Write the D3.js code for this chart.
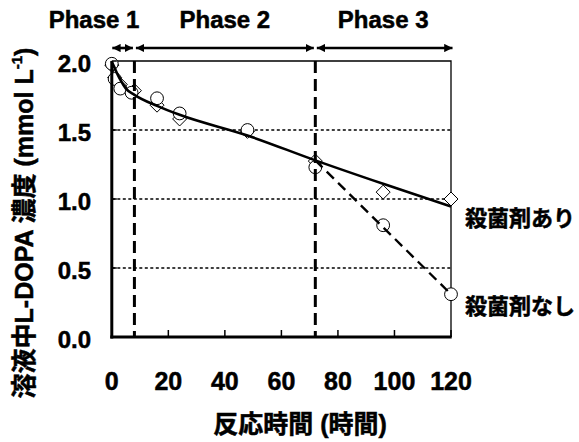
<!DOCTYPE html>
<html>
<head>
<meta charset="utf-8">
<script src="https://cdn.jsdelivr.net/npm/d3@7"></script>
<style>
  body { margin: 0; background: #fff; }
  svg text { font-family: "Liberation Sans", Arial, "Noto Sans CJK JP", sans-serif; font-weight: bold; fill: #000; stroke: #000; stroke-width: 0.5px; }
</style>
</head>
<body>
<svg id="chart" width="579" height="442"></svg>
<script>
// tick values
const xTicks = [0, 20, 40, 60, 80, 100, 120];
const yTicks = [0, 0.5, 1.0, 1.5, 2.0];

// phases (hours)
const phaseNames = ["Phase 1", "Phase 2", "Phase 3"];
const phaseBounds = [0, 8, 72, 120];

// 殺菌剤なし (circles)
const timeNone = [0, 1, 3, 7, 16, 24, 48, 72, 96, 120];
const valNone = [1.98, 1.87, 1.80, 1.77, 1.73, 1.62, 1.50, 1.23, 0.81, 0.31];

// 殺菌剤あり (diamonds)
const timeWith = [0, 1, 3, 8, 16, 24, 48, 72, 96, 120];
const valWith = [1.97, 1.88, 1.83, 1.785, 1.68, 1.58, 1.49, 1.275, 1.05, 1.00];

// fitted curves
const fitTime = [0, 1, 2, 3, 5, 8, 16, 24, 48, 72, 96, 120];
const fitWith = [1.995, 1.95, 1.905, 1.865, 1.80, 1.755, 1.675, 1.61, 1.46, 1.28, 1.11, 0.945];
const dashTime = [72, 120];
const dashNone = [1.28, 0.31];

const seriesLabels = ["殺菌剤あり", "殺菌剤なし"];
const labelVals = [0.88, 0.24];

const svg = d3.select("#chart");

const x = d3.scaleLinear().domain([0, 120]).range([111.8, 451]);
const y = d3.scaleLinear().domain([0, 2]).range([337, 61]);

// arrow markers
const defs = svg.append("defs");
["start", "end"].forEach(k => {
    defs.append("marker")
        .attr("id", "arr-" + k)
        .attr("viewBox", "0 0 10 10")
        .attr("refX", k === "end" ? 10 : 0)
        .attr("refY", 5)
        .attr("markerWidth", 3.2)
        .attr("markerHeight", 3.2)
        .attr("markerUnits", "strokeWidth")
        .attr("orient", "auto")
        .append("path")
        .attr("d", k === "end" ? "M0,0 L10,5 L0,10 Z" : "M10,0 L0,5 L10,10 Z")
        .attr("fill", "#000");
});

// gridlines (dotted)
svg.append("g")
    .selectAll("line")
    .data(yTicks.filter(d => d > 0 && d < 2))
    .enter()
    .append("line")
    .attr("x1", x(0)).attr("x2", x(120))
    .attr("y1", d => y(d)).attr("y2", d => y(d))
    .attr("stroke", "#000")
    .attr("stroke-width", 1.5)
    .attr("stroke-dasharray", "3,2.5");

// top and right border
svg.append("path")
    .attr("d", `M${x(0)},${y(2)} H${x(120)} V${y(0)}`)
    .attr("fill", "none")
    .attr("stroke", "#000")
    .attr("stroke-width", 1.3);

// markers: diamonds then circles
const dr = 7;
svg.append("g")
    .selectAll("path")
    .data(timeWith.map((t, i) => [t, valWith[i]]))
    .enter()
    .append("path")
    .attr("d", `M0,${-dr} L${dr},0 L0,${dr} L${-dr},0 Z`)
    .attr("transform", d => `translate(${x(d[0])},${y(d[1])})`)
    .attr("fill", "#fff")
    .attr("stroke", "#000")
    .attr("stroke-width", 1);

svg.append("g")
    .selectAll("circle")
    .data(timeNone.map((t, i) => [t, valNone[i]]))
    .enter()
    .append("circle")
    .attr("cx", d => x(d[0]))
    .attr("cy", d => y(d[1]))
    .attr("r", 6.4)
    .attr("fill", "#fff")
    .attr("stroke", "#000")
    .attr("stroke-width", 1);

// fitted lines
svg.append("path")
    .datum(fitTime.map((t, i) => [t, fitWith[i]]))
    .attr("fill", "none")
    .attr("stroke", "#000")
    .attr("stroke-width", 2.6)
    .attr("d", d3.line().x(d => x(d[0])).y(d => y(d[1])).curve(d3.curveMonotoneX));

svg.append("path")
    .datum(dashTime.map((t, i) => [t, dashNone[i]]))
    .attr("fill", "none")
    .attr("stroke", "#000")
    .attr("stroke-width", 2.4)
    .attr("stroke-dasharray", "10,6")
    .attr("d", d3.line().x(d => x(d[0])).y(d => y(d[1])));

// phase dividers
svg.append("g")
    .selectAll("line")
    .data(phaseBounds.slice(1, -1))
    .enter()
    .append("line")
    .attr("x1", d => x(d)).attr("x2", d => x(d))
    .attr("y1", y(2)).attr("y2", y(0))
    .attr("stroke", "#000")
    .attr("stroke-width", 3)
    .attr("stroke-dasharray", "12,6");

// axes
svg.append("line")
    .attr("x1", x(0)).attr("x2", x(0))
    .attr("y1", y(2)).attr("y2", y(0) + 1.5)
    .attr("stroke", "#000").attr("stroke-width", 3);
svg.append("line")
    .attr("x1", x(0) - 1.5).attr("x2", x(120) + 0.7)
    .attr("y1", y(0)).attr("y2", y(0))
    .attr("stroke", "#000").attr("stroke-width", 3);

// x ticks (inside)
svg.append("g")
    .selectAll("line")
    .data(xTicks.slice(1))
    .enter()
    .append("line")
    .attr("x1", d => x(d)).attr("x2", d => x(d))
    .attr("y1", y(0)).attr("y2", y(0) - 7)
    .attr("stroke", "#000").attr("stroke-width", 1.5);

// y ticks (inside)
svg.append("g")
    .selectAll("line")
    .data(yTicks.slice(1))
    .enter()
    .append("line")
    .attr("x1", x(0)).attr("x2", x(0) + 5)
    .attr("y1", d => y(d)).attr("y2", d => y(d))
    .attr("stroke", "#000").attr("stroke-width", 1.5);

// tick labels
svg.append("g")
    .selectAll("text")
    .data(yTicks)
    .enter()
    .append("text")
    .attr("x", 91)
    .attr("y", d => y(d))
    .attr("dy", "0.44em")
    .attr("text-anchor", "end")
    .style("font-size", "24px")
    .text(d => d.toFixed(1));

svg.append("g")
    .selectAll("text")
    .data(xTicks)
    .enter()
    .append("text")
    .attr("x", d => x(d))
    .attr("y", 390)
    .attr("text-anchor", "middle")
    .style("font-size", "25px")
    .text(d => d);

// phase arrows + labels
const arrowY = 48;
phaseNames.forEach((name, i) => {
    const a = x(phaseBounds[i]) + (i === 0 ? 0.5 : 1.5);
    const b = x(phaseBounds[i + 1]) - (i === 2 ? -1.5 : 1.5);
    svg.append("line")
        .attr("x1", a).attr("x2", b)
        .attr("y1", arrowY).attr("y2", arrowY)
        .attr("stroke", "#000")
        .attr("stroke-width", 2.6)
        .attr("marker-start", "url(#arr-start)")
        .attr("marker-end", "url(#arr-end)");
    const t = svg.append("text")
        .attr("y", 28)
        .style("font-size", "24px")
        .text(name);
    if (i === 0) {
        t.attr("x", x(phaseBounds[1]) + 5).attr("text-anchor", "end");
    } else {
        t.attr("x", x((phaseBounds[i] + phaseBounds[i + 1]) / 2)).attr("text-anchor", "middle");
    }
});

// series labels
seriesLabels.forEach((lab, i) => {
    svg.append("text")
        .attr("x", 465)
        .attr("y", y(labelVals[i]))
        .attr("dominant-baseline", "central")
        .style("font-size", "22px")
        .style("font-family", "'Noto Sans CJK JP', sans-serif")
        .text(lab);
});

// axis titles
svg.append("text")
    .attr("x", 300)
    .attr("y", 433)
    .attr("text-anchor", "middle")
    .style("font-size", "25px")
    .text("反応時間 (時間)");

const yTitle = svg.append("text")
    .attr("transform", "translate(24,223) rotate(-90)")
    .attr("text-anchor", "middle")
    .attr("dominant-baseline", "central")
    .style("font-size", "25px");
yTitle.append("tspan").text("溶液中L-DOPA 濃度 (mmol L");
yTitle.append("tspan").attr("dy", -8).style("font-size", "15px").text("-1");
yTitle.append("tspan").attr("dy", 8).text(")");
</script>
</body>
</html>
